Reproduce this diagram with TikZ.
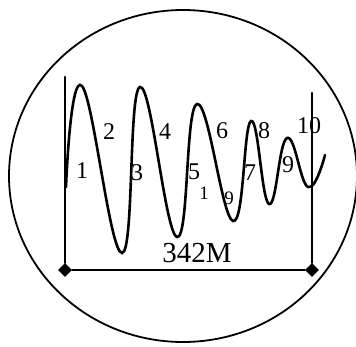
\documentclass[tikz,border=0pt]{standalone}
\usepackage{fontspec}
\setmainfont{Liberation Serif}
\usetikzlibrary{shapes.geometric}

\begin{document}
\begin{tikzpicture}[x=1pt,y=-1pt,line cap=round,
  tip/.style={diamond,fill=black,inner sep=0pt,minimum size=14pt},
  num/.style={inner sep=0pt,font=\fontsize{24}{24}\selectfont},
  smallnum/.style={inner sep=0pt,font=\fontsize{19}{19}\selectfont}]
\useasboundingbox (0,0) rectangle (356,346);
\draw[line width=1.8pt] (183,176) ellipse (174 and 166);
% ends of the scale
\node[tip] (la) at (65,270) {};
\node[tip] (ra) at (312,270) {};
\coordinate (lt) at (65,77);
\coordinate (rt) at (312,93);
\draw[line width=2.6pt] (lt) -- (la);
\draw[line width=2.6pt] (rt) -- (ra);
\draw[line width=2pt] (la) -- (ra);
% the wave
\draw[line width=2.6pt] plot[smooth,tension=0.75] coordinates {(66,187) (82,86) (122,253) (140,87) (177,237) (197,104) (233,221) (251,121) (269,204) (287,138) (308,187) (325,155)};
\node[num] (n1) at (82,171) {1};
\node[num] (n2) at (109,132) {2};
\node[num] (n3) at (137,173) {3};
\node[num] (n4) at (165,132) {4};
\node[num] (n5) at (194,172) {5};
\node[smallnum] (s1) at (204,193) {1};
\node[smallnum] (s9) at (229,198) {9};
\node[num] (n6) at (222,131) {6};
\node[num] (n7) at (250,173) {7};
\node[num] (n8) at (264,131) {8};
\node[num] (n9) at (288,165) {9};
\node[num] (n10) at (309,126) {10};
\node[inner sep=0pt,font=\fontsize{29}{29}\selectfont] (len) at (197,253) {342M};
\end{tikzpicture}
\end{document}
